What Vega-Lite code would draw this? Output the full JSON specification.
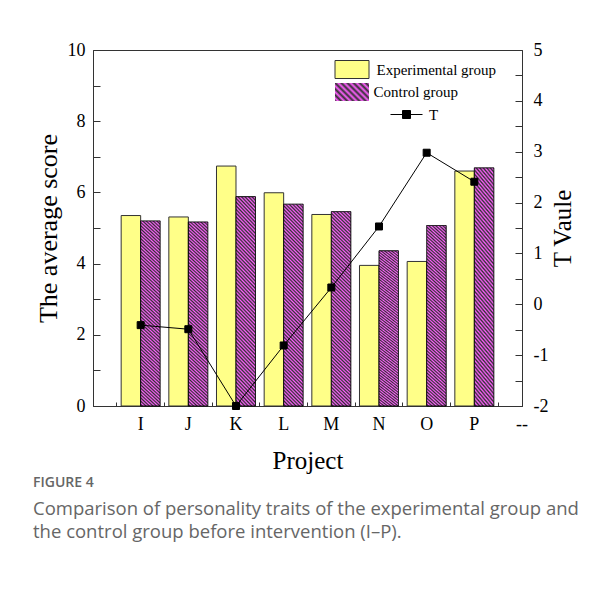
{
  "$schema": "https://vega.github.io/schema/vega-lite/v6.json",
  "width": 429,
  "height": 356,
  "autosize": "none",
  "padding": {"left": 93, "top": 50, "right": 90, "bottom": 189},
  "background": "white",
  "config": {"view": {"stroke": "#333", "strokeWidth": 1}, "font": "Liberation Serif"},
  "data": {"values": [
    {"Project": "I", "Experimental": 5.35, "Control": 5.20, "T": -0.41},
    {"Project": "J", "Experimental": 5.31, "Control": 5.17, "T": -0.49},
    {"Project": "K", "Experimental": 6.74, "Control": 5.88, "T": -2.0},
    {"Project": "L", "Experimental": 5.99, "Control": 5.67, "T": -0.81},
    {"Project": "M", "Experimental": 5.38, "Control": 5.46, "T": 0.33},
    {"Project": "N", "Experimental": 3.95, "Control": 4.36, "T": 1.53},
    {"Project": "O", "Experimental": 4.06, "Control": 5.07, "T": 2.98},
    {"Project": "P", "Experimental": 6.60, "Control": 6.69, "T": 2.41}
  ]},
  "title": {
    "text": "FIGURE 4",
    "subtitle": ["Comparison of personality traits of the experimental group and", "the control group before intervention (I\u2013P)."],
    "orient": "bottom",
    "anchor": "start",
    "frame": "group",
    "dx": -60,
    "offset": 3,
    "font": "Open Sans",
    "fontSize": 14,
    "fontWeight": 600,
    "color": "#666",
    "subtitleFont": "Open Sans",
    "subtitleFontSize": 18.5,
    "subtitleColor": "#666",
    "subtitlePadding": 10,
    "subtitleLineHeight": 23
  },
  "layer": [
    {
      "transform": [{"fold": ["Experimental", "Control"], "as": ["group", "score"]}],
      "encoding": {
        "x": {"field": "Project", "type": "nominal", "sort": null,
          "scale": {"type": "band", "domain": ["I", "J", "K", "L", "M", "N", "O", "P", "--"], "paddingInner": 0, "paddingOuter": 0},
          "axis": {"title": "Project", "labelAngle": 0, "labelOffset": 23.83, "tickSize": -4, "tickColor": "#333", "domainColor": "#333",
            "labelFont": "Liberation Serif", "labelFontSize": 18, "labelColor": "black", "labelPadding": 13,
            "titleFont": "Liberation Serif", "titleFontSize": 25, "titleFontWeight": "normal", "titleColor": "black", "titlePadding": 15, "grid": false}},
        "y": {"field": "score", "type": "quantitative",
          "scale": {"domain": [0, 10], "nice": false, "zero": true},
          "axis": {"title": "The average score", "orient": "left", "values": [0, 1, 2, 3, 4, 5, 6, 7, 8, 9, 10],
            "labelExpr": "datum.value % 2 === 0 ? '' + datum.value : ''",
            "tickSize": -7, "tickColor": "#333", "domainColor": "#333", "grid": false,
            "labelFont": "Liberation Serif", "labelFontSize": 18, "labelColor": "black", "labelPadding": 15,
            "titleFont": "Liberation Serif", "titleFontSize": 26, "titleFontWeight": "normal", "titleColor": "black", "titlePadding": 6,
            "encode": {"ticks": {"x2": {"condition": {"test": "datum.value % 2 === 0", "value": 7}, "value": 4}}}}}
      },
      "layer": [
        {
          "transform": [{"filter": "datum.group === 'Experimental'"}],
          "mark": {"type": "bar", "width": 19.5, "xOffset": 14.08, "fill": "#ffff88", "strokeWidth": 1},
          "encoding": {
            "stroke": {"datum": "Experimental group", "type": "nominal",
              "scale": {"domain": ["Experimental group"], "range": ["#333333"]},
              "legend": {
                "title": null, "orient": "none", "legendX": 248.5, "legendY": 9, "padding": 0,
                "symbolSize": 400, "symbolType": "M-1.7,-0.9H1.7V0.9H-1.7Z", "labelOffset": 14,
                "symbolFillColor": "#ffff88", "symbolStrokeWidth": 1,
                "labelFont": "Liberation Serif", "labelFontSize": 15, "labelColor": "black"
              }}
          }
        },
        {
          "transform": [{"filter": "datum.group === 'Control'"}],
          "mark": {"type": "bar", "width": 19.5, "xOffset": 33.58, "stroke": "black", "strokeWidth": 1,
            "fill": {"gradient": "linear", "x1": 0, "y1": 1, "x2": 0.106, "y2": -0.087, "stops": [
              {"offset": 0, "color": "#ff60ff"}, {"offset": 0.008, "color": "#303030"}, {"offset": 0.016, "color": "#ff60ff"}, {"offset": 0.024, "color": "#303030"},
              {"offset": 0.032, "color": "#ff60ff"}, {"offset": 0.04, "color": "#303030"}, {"offset": 0.048, "color": "#ff60ff"}, {"offset": 0.056, "color": "#303030"},
              {"offset": 0.064, "color": "#ff60ff"}, {"offset": 0.072, "color": "#303030"}, {"offset": 0.08, "color": "#ff60ff"}, {"offset": 0.088, "color": "#303030"},
              {"offset": 0.096, "color": "#ff60ff"}, {"offset": 0.104, "color": "#303030"}, {"offset": 0.112, "color": "#ff60ff"}, {"offset": 0.12, "color": "#303030"},
              {"offset": 0.128, "color": "#ff60ff"}, {"offset": 0.136, "color": "#303030"}, {"offset": 0.144, "color": "#ff60ff"}, {"offset": 0.152, "color": "#303030"},
              {"offset": 0.16, "color": "#ff60ff"}, {"offset": 0.168, "color": "#303030"}, {"offset": 0.176, "color": "#ff60ff"}, {"offset": 0.184, "color": "#303030"},
              {"offset": 0.192, "color": "#ff60ff"}, {"offset": 0.2, "color": "#303030"}, {"offset": 0.208, "color": "#ff60ff"}, {"offset": 0.216, "color": "#303030"},
              {"offset": 0.224, "color": "#ff60ff"}, {"offset": 0.232, "color": "#303030"}, {"offset": 0.24, "color": "#ff60ff"}, {"offset": 0.248, "color": "#303030"},
              {"offset": 0.256, "color": "#ff60ff"}, {"offset": 0.264, "color": "#303030"}, {"offset": 0.272, "color": "#ff60ff"}, {"offset": 0.28, "color": "#303030"},
              {"offset": 0.288, "color": "#ff60ff"}, {"offset": 0.296, "color": "#303030"}, {"offset": 0.304, "color": "#ff60ff"}, {"offset": 0.312, "color": "#303030"},
              {"offset": 0.32, "color": "#ff60ff"}, {"offset": 0.328, "color": "#303030"}, {"offset": 0.336, "color": "#ff60ff"}, {"offset": 0.344, "color": "#303030"},
              {"offset": 0.352, "color": "#ff60ff"}, {"offset": 0.36, "color": "#303030"}, {"offset": 0.368, "color": "#ff60ff"}, {"offset": 0.376, "color": "#303030"},
              {"offset": 0.384, "color": "#ff60ff"}, {"offset": 0.392, "color": "#303030"}, {"offset": 0.4, "color": "#ff60ff"}, {"offset": 0.408, "color": "#303030"},
              {"offset": 0.416, "color": "#ff60ff"}, {"offset": 0.424, "color": "#303030"}, {"offset": 0.432, "color": "#ff60ff"}, {"offset": 0.44, "color": "#303030"},
              {"offset": 0.448, "color": "#ff60ff"}, {"offset": 0.456, "color": "#303030"}, {"offset": 0.464, "color": "#ff60ff"}, {"offset": 0.472, "color": "#303030"},
              {"offset": 0.48, "color": "#ff60ff"}, {"offset": 0.488, "color": "#303030"}, {"offset": 0.496, "color": "#ff60ff"}, {"offset": 0.504, "color": "#303030"},
              {"offset": 0.512, "color": "#ff60ff"}, {"offset": 0.52, "color": "#303030"}, {"offset": 0.528, "color": "#ff60ff"}, {"offset": 0.536, "color": "#303030"},
              {"offset": 0.544, "color": "#ff60ff"}, {"offset": 0.552, "color": "#303030"}, {"offset": 0.56, "color": "#ff60ff"}, {"offset": 0.568, "color": "#303030"},
              {"offset": 0.576, "color": "#ff60ff"}, {"offset": 0.584, "color": "#303030"}, {"offset": 0.592, "color": "#ff60ff"}, {"offset": 0.6, "color": "#303030"},
              {"offset": 0.608, "color": "#ff60ff"}, {"offset": 0.616, "color": "#303030"}, {"offset": 0.624, "color": "#ff60ff"}, {"offset": 0.632, "color": "#303030"},
              {"offset": 0.64, "color": "#ff60ff"}, {"offset": 0.648, "color": "#303030"}, {"offset": 0.656, "color": "#ff60ff"}, {"offset": 0.664, "color": "#303030"},
              {"offset": 0.672, "color": "#ff60ff"}, {"offset": 0.68, "color": "#303030"}, {"offset": 0.688, "color": "#ff60ff"}, {"offset": 0.696, "color": "#303030"},
              {"offset": 0.704, "color": "#ff60ff"}, {"offset": 0.712, "color": "#303030"}, {"offset": 0.72, "color": "#ff60ff"}, {"offset": 0.728, "color": "#303030"},
              {"offset": 0.736, "color": "#ff60ff"}, {"offset": 0.744, "color": "#303030"}, {"offset": 0.752, "color": "#ff60ff"}, {"offset": 0.76, "color": "#303030"},
              {"offset": 0.768, "color": "#ff60ff"}, {"offset": 0.776, "color": "#303030"}, {"offset": 0.784, "color": "#ff60ff"}, {"offset": 0.792, "color": "#303030"},
              {"offset": 0.8, "color": "#ff60ff"}, {"offset": 0.808, "color": "#303030"}, {"offset": 0.816, "color": "#ff60ff"}, {"offset": 0.824, "color": "#303030"},
              {"offset": 0.832, "color": "#ff60ff"}, {"offset": 0.84, "color": "#303030"}, {"offset": 0.848, "color": "#ff60ff"}, {"offset": 0.856, "color": "#303030"},
              {"offset": 0.864, "color": "#ff60ff"}, {"offset": 0.872, "color": "#303030"}, {"offset": 0.88, "color": "#ff60ff"}, {"offset": 0.888, "color": "#303030"},
              {"offset": 0.896, "color": "#ff60ff"}, {"offset": 0.904, "color": "#303030"}, {"offset": 0.912, "color": "#ff60ff"}, {"offset": 0.92, "color": "#303030"},
              {"offset": 0.928, "color": "#ff60ff"}, {"offset": 0.936, "color": "#303030"}, {"offset": 0.944, "color": "#ff60ff"}, {"offset": 0.952, "color": "#303030"},
              {"offset": 0.96, "color": "#ff60ff"}, {"offset": 0.968, "color": "#303030"}, {"offset": 0.976, "color": "#ff60ff"}, {"offset": 0.984, "color": "#303030"},
              {"offset": 0.992, "color": "#ff60ff"}, {"offset": 1, "color": "#303030"}]}},
          "encoding": {
            "strokeDash": {"datum": "Control group", "type": "nominal",
              "scale": {"domain": ["Control group"], "range": [[1, 0]]},
              "legend": {
                "title": null, "orient": "none", "legendX": 248.5, "legendY": 31.5, "padding": 0,
                "symbolSize": 400, "symbolType": "M-1.7,-0.9H1.7V0.9H-1.7Z", "labelOffset": 11,
                "symbolFillColor": "#a040a0", "symbolStrokeColor": "black", "symbolStrokeWidth": 1,
                "labelFont": "Liberation Serif", "labelFontSize": 15, "labelColor": "black"
              }}
          }
        }
      ]
    },
    {
      "encoding": {
        "x": {"field": "Project", "type": "nominal", "sort": null,
          "scale": {"type": "band", "domain": ["I", "J", "K", "L", "M", "N", "O", "P", "--"], "paddingInner": 0, "paddingOuter": 0},
          "axis": {"title": "Project", "labelAngle": 0, "labelOffset": 23.83, "tickSize": -4, "tickColor": "#333", "domainColor": "#333",
            "labelFont": "Liberation Serif", "labelFontSize": 18, "labelColor": "black", "labelPadding": 13,
            "titleFont": "Liberation Serif", "titleFontSize": 25, "titleFontWeight": "normal", "titleColor": "black", "titlePadding": 15, "grid": false}},
        "y": {"field": "T", "type": "quantitative",
          "scale": {"domain": [-2, 5], "nice": false, "zero": false},
          "axis": {"title": "T Vaule", "orient": "right", "values": [-2, -1.5, -1, -0.5, 0, 0.5, 1, 1.5, 2, 2.5, 3, 3.5, 4, 4.5, 5],
            "labelExpr": "datum.value % 1 === 0 ? '' + datum.value : ''",
            "tickSize": -7, "tickColor": "#333", "domainColor": "#333", "grid": false,
            "labelFont": "Liberation Serif", "labelFontSize": 18, "labelColor": "black", "labelPadding": 18,
            "titleFont": "Liberation Serif", "titleFontSize": 25, "titleFontWeight": "normal", "titleColor": "black", "titlePadding": 3,
            "titleAngle": 270, "titleBaseline": "top",
            "encode": {"ticks": {"x2": {"condition": {"test": "datum.value % 1 === 0", "value": -7}, "value": -4}}}}}
      },
      "layer": [
        {"mark": {"type": "line", "color": "black", "strokeWidth": 1, "xOffset": 23.83},
          "encoding": {
            "opacity": {"datum": "T", "type": "nominal",
              "scale": {"domain": ["T"], "range": [1]},
              "legend": {
                "title": null, "orient": "none", "legendX": 303, "legendY": 54, "padding": 0,
                "symbolSize": 400, "symbolType": "M-1.6,0H1.6M-0.4,-0.4H0.4V0.4H-0.4Z", "labelOffset": 12,
                "symbolFillColor": "black", "symbolStrokeColor": "black", "symbolStrokeWidth": 1, "symbolOpacity": 1,
                "labelFont": "Liberation Serif", "labelFontSize": 15, "labelColor": "black"
              }}
          }},
        {"mark": {"type": "point", "shape": "square", "filled": true, "size": 49, "fill": "black", "stroke": "black", "strokeWidth": 1, "opacity": 1, "xOffset": 23.83}}
      ]
    }
  ],
  "resolve": {"scale": {"y": "independent"}}
}
